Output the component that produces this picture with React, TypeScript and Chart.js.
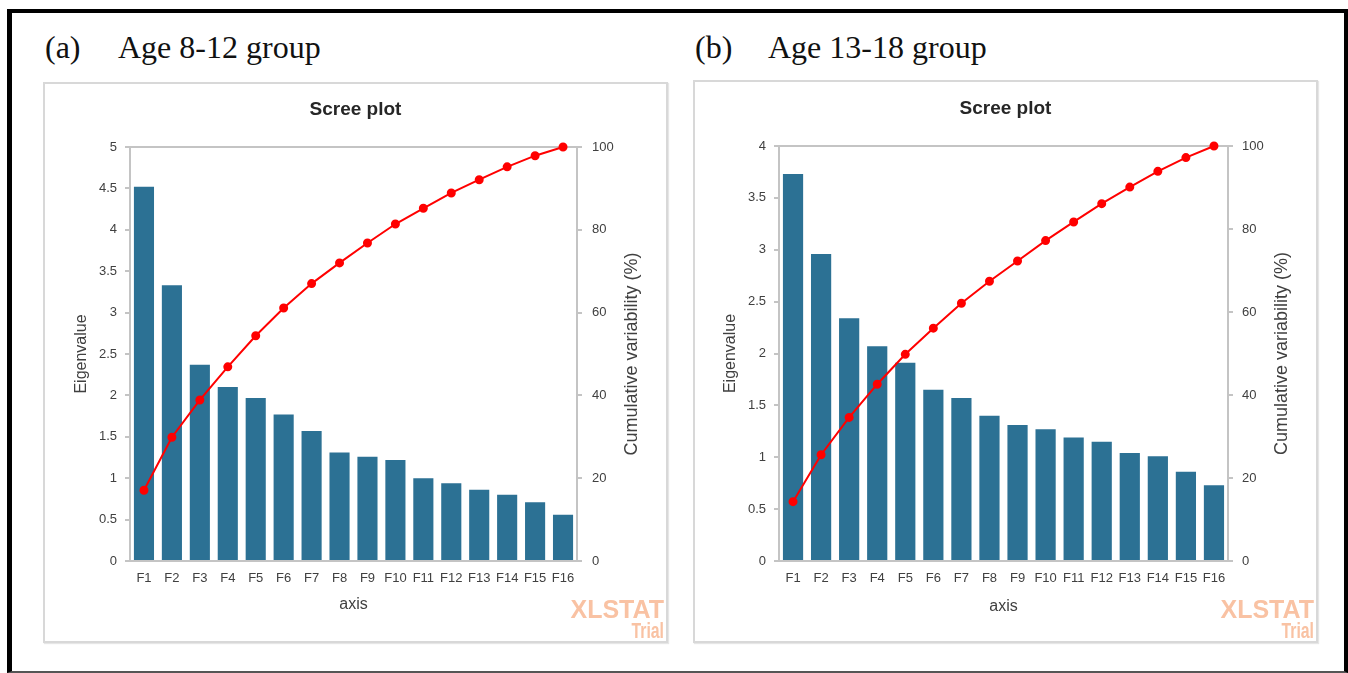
import React, { useEffect, useRef } from "react";
import { Chart, registerables } from "chart.js";

Chart.register(...registerables);

// ---------- data ----------
const factors = ["F1", "F2", "F3", "F4", "F5", "F6", "F7", "F8", "F9", "F10", "F11", "F12", "F13", "F14", "F15", "F16"];

const eigenvaluesA = [4.52, 3.33, 2.37, 2.1, 1.97, 1.77, 1.57, 1.31, 1.26, 1.22, 1.0, 0.94, 0.86, 0.8, 0.71, 0.56];
const cumulativeA = [17.1, 29.9, 38.9, 46.9, 54.4, 61.1, 67.0, 72.0, 76.8, 81.4, 85.2, 88.9, 92.1, 95.2, 97.9, 100];

const eigenvaluesB = [3.73, 2.96, 2.34, 2.07, 1.91, 1.65, 1.57, 1.4, 1.31, 1.27, 1.19, 1.15, 1.04, 1.01, 0.86, 0.73];
const cumulativeB = [14.3, 25.6, 34.6, 42.6, 49.8, 56.1, 62.1, 67.4, 72.3, 77.2, 81.7, 86.1, 90.1, 93.9, 97.2, 100];

const eigenMaxA = 5;
const eigenMaxB = 4;
const eigenStep = 0.5;
const cumulativeMax = 100;
const cumulativeStep = 20;

const chartTitle = "Scree plot";
const xTitle = "axis";
const leftTitle = "Eigenvalue";
const rightTitle = "Cumulative variability (%)";

// ---------- style ----------
const FONT = '"Liberation Sans", Arial, sans-serif';
const BAR = "#2c7194";
const LINE = "#ff0000";
const AXIS = "#c4c4c4";
const TEXT = "#404040";

type Layout = {
  w: number; h: number;
  left: number; right: number; top: number; bottom: number;
  titleY: number; leftTitleX: number; rightTitleX: number; xTitleY: number;
  leftPad: number; rightPad: number;
};

const framePlugin = {
  id: "frame",
  beforeDatasetsDraw(chart: any) {
    const { ctx, chartArea } = chart;
    ctx.save();
    ctx.strokeStyle = AXIS;
    ctx.lineWidth = 2;
    ctx.beginPath();
    ctx.moveTo(chartArea.left - 1, chartArea.top);
    ctx.lineTo(chartArea.right + 1, chartArea.top);
    ctx.stroke();
    ctx.restore();
  },
  afterDraw(chart: any, _args: any, opts: any) {
    const { ctx, chartArea } = chart;
    ctx.save();
    ctx.translate(opts.x, (chartArea.top + chartArea.bottom) / 2);
    ctx.rotate(-Math.PI / 2);
    ctx.font = `18px ${FONT}`;
    ctx.fillStyle = TEXT;
    ctx.textAlign = "center";
    ctx.textBaseline = "middle";
    ctx.fillText(opts.text, 0, 0);
    ctx.restore();
  },
};

const fmt = (v: any) => Number(Number(v).toFixed(1)).toString();

function ScreeChart(props: {
  eigen: number[]; cum: number[]; eigenMax: number; layout: Layout;
  style: React.CSSProperties;
}) {
  const ref = useRef<HTMLCanvasElement | null>(null);
  const { eigen, cum, eigenMax, layout: L } = props;

  useEffect(() => {
    if (!ref.current) return;
    const titleLH = 19 * 1.2;
    const axisLH = 16 * 1.2;
    const chart = new Chart(ref.current, {
      type: "bar",
      data: {
        labels: factors,
        datasets: [
          {
            type: "line",
            data: cum,
            yAxisID: "y1",
            borderColor: LINE,
            backgroundColor: LINE,
            borderWidth: 2,
            pointRadius: 3.5,
            pointBackgroundColor: LINE,
            pointBorderColor: LINE,
            tension: 0,
            clip: false,
            order: 0,
          } as any,
          {
            type: "bar",
            data: eigen,
            yAxisID: "y",
            backgroundColor: BAR,
            barPercentage: 0.72,
            categoryPercentage: 1,
            order: 1,
          } as any,
        ],
      },
      options: {
        responsive: false,
        animation: false,
        devicePixelRatio: 1,
        layout: { padding: 0 },
        plugins: {
          legend: { display: false },
          tooltip: { enabled: false },
          title: {
            display: true,
            text: chartTitle,
            color: "#262626",
            font: { family: FONT, size: 19, weight: "bold" },
            padding: { top: L.titleY - titleLH / 2, bottom: L.top - L.titleY - titleLH / 2 },
          },
          frame: { x: L.rightTitleX, text: rightTitle },
        } as any,
        scales: {
          x: {
            type: "category",
            offset: true,
            grid: { display: false, drawTicks: false },
            border: { display: true, color: AXIS, width: 2 },
            ticks: {
              color: TEXT,
              font: { family: FONT, size: 13 },
              padding: 10,
              maxRotation: 0,
              autoSkip: false,
            },
            title: {
              display: true,
              text: xTitle,
              color: TEXT,
              font: { family: FONT, size: 16 },
              padding: { top: 0, bottom: L.h - L.xTitleY - axisLH / 2 },
            },
            afterFit: (s: any) => { s.height = L.h - L.bottom; },
          },
          y: {
            position: "left",
            min: 0,
            max: eigenMax,
            ticks: {
              stepSize: eigenStep,
              color: TEXT,
              font: { family: FONT, size: 13 },
              padding: L.leftPad,
              callback: fmt,
            },
            grid: { display: true, drawOnChartArea: false, drawTicks: true, tickLength: 5, color: AXIS, lineWidth: 2 },
            border: { display: true, color: AXIS, width: 2 },
            title: {
              display: true,
              text: leftTitle,
              color: TEXT,
              font: { family: FONT, size: 16 },
              padding: { top: L.leftTitleX - axisLH / 2, bottom: 0 },
            },
            afterFit: (s: any) => { s.width = L.left; },
          },
          y1: {
            position: "right",
            min: 0,
            max: cumulativeMax,
            ticks: {
              stepSize: cumulativeStep,
              color: TEXT,
              font: { family: FONT, size: 13 },
              padding: L.rightPad,
              callback: fmt,
            },
            grid: { display: true, drawOnChartArea: false, drawTicks: true, tickLength: 5, color: AXIS, lineWidth: 2 },
            border: { display: true, color: AXIS, width: 2 },
            afterFit: (s: any) => { s.width = L.w - L.right; },
          },
        } as any,
      },
      plugins: [framePlugin as any],
    });
    return () => chart.destroy();
  }, []);

  return <canvas ref={ref} width={L.w} height={L.h} style={{ position: "absolute", ...props.style }} />;
}

// layouts (page coordinates converted to canvas coordinates)
const layoutA: Layout = {
  w: 625, h: 561,
  left: 130 - 43, right: 577 - 43, top: 147 - 82, bottom: 561 - 82,
  titleY: 110 - 82, leftTitleX: 82 - 43, rightTitleX: 632 - 43, xTitleY: 605 - 82,
  leftPad: 8, rightPad: 10,
};
const layoutB: Layout = {
  w: 625, h: 563,
  left: 779 - 693, right: 1228 - 693, top: 146 - 80, bottom: 561 - 80,
  titleY: 109 - 80, leftTitleX: 731 - 693, rightTitleX: 1282 - 693, xTitleY: 607 - 80,
  leftPad: 8, rightPad: 9,
};

const headingStyle: React.CSSProperties = {
  position: "absolute",
  fontFamily: '"Liberation Serif", "Times New Roman", serif',
  fontSize: 32,
  lineHeight: "32px",
  color: "#111",
  whiteSpace: "nowrap",
};

function Watermark(props: { right: number }) {
  const c = "#f9c2a3";
  return (
    <>
      <div style={{ position: "absolute", left: props.right - 200, width: 200, top: 597, textAlign: "right", fontFamily: FONT, fontWeight: "bold", fontSize: 25, lineHeight: "25px", color: c }}>XLSTAT</div>
      <div style={{ position: "absolute", left: props.right - 200, width: 200, top: 620, textAlign: "right", fontFamily: FONT, fontWeight: "bold", fontSize: 22, lineHeight: "22px", color: c, transform: "scaleX(0.72)", transformOrigin: "right center" }}>Trial</div>
    </>
  );
}

export default function App() {
  return (
    <div style={{ position: "absolute", left: 0, top: 0, width: 1348, height: 673, background: "#fff", overflow: "hidden" }}>
      <div style={{ position: "absolute", left: 7, top: 9, width: 1341, height: 664, boxSizing: "border-box", borderTop: "4px solid #000", borderLeft: "5px solid #000", borderRight: "4px solid #000", borderBottom: "2px solid #555" }} />

      <div style={{ ...headingStyle, left: 45, top: 31 }}>(a)</div>
      <div style={{ ...headingStyle, left: 118, top: 31 }}>Age 8-12 group</div>
      <div style={{ ...headingStyle, left: 695, top: 31 }}>(b)</div>
      <div style={{ ...headingStyle, left: 768, top: 31 }}>Age 13-18 group</div>

      <div style={{ position: "absolute", left: 43, top: 82, width: 625, height: 561, boxSizing: "border-box", border: "2px solid #d8d8d8", boxShadow: "1px 1px 1px #e6e6e6" }} />
      <div style={{ position: "absolute", left: 693, top: 80, width: 625, height: 563, boxSizing: "border-box", border: "2px solid #d8d8d8", boxShadow: "1px 1px 1px #e6e6e6" }} />

      <ScreeChart eigen={eigenvaluesA} cum={cumulativeA} eigenMax={eigenMaxA} layout={layoutA} style={{ left: 43, top: 82 }} />
      <ScreeChart eigen={eigenvaluesB} cum={cumulativeB} eigenMax={eigenMaxB} layout={layoutB} style={{ left: 693, top: 80 }} />

      <Watermark right={664} />
      <Watermark right={1314} />
    </div>
  );
}
